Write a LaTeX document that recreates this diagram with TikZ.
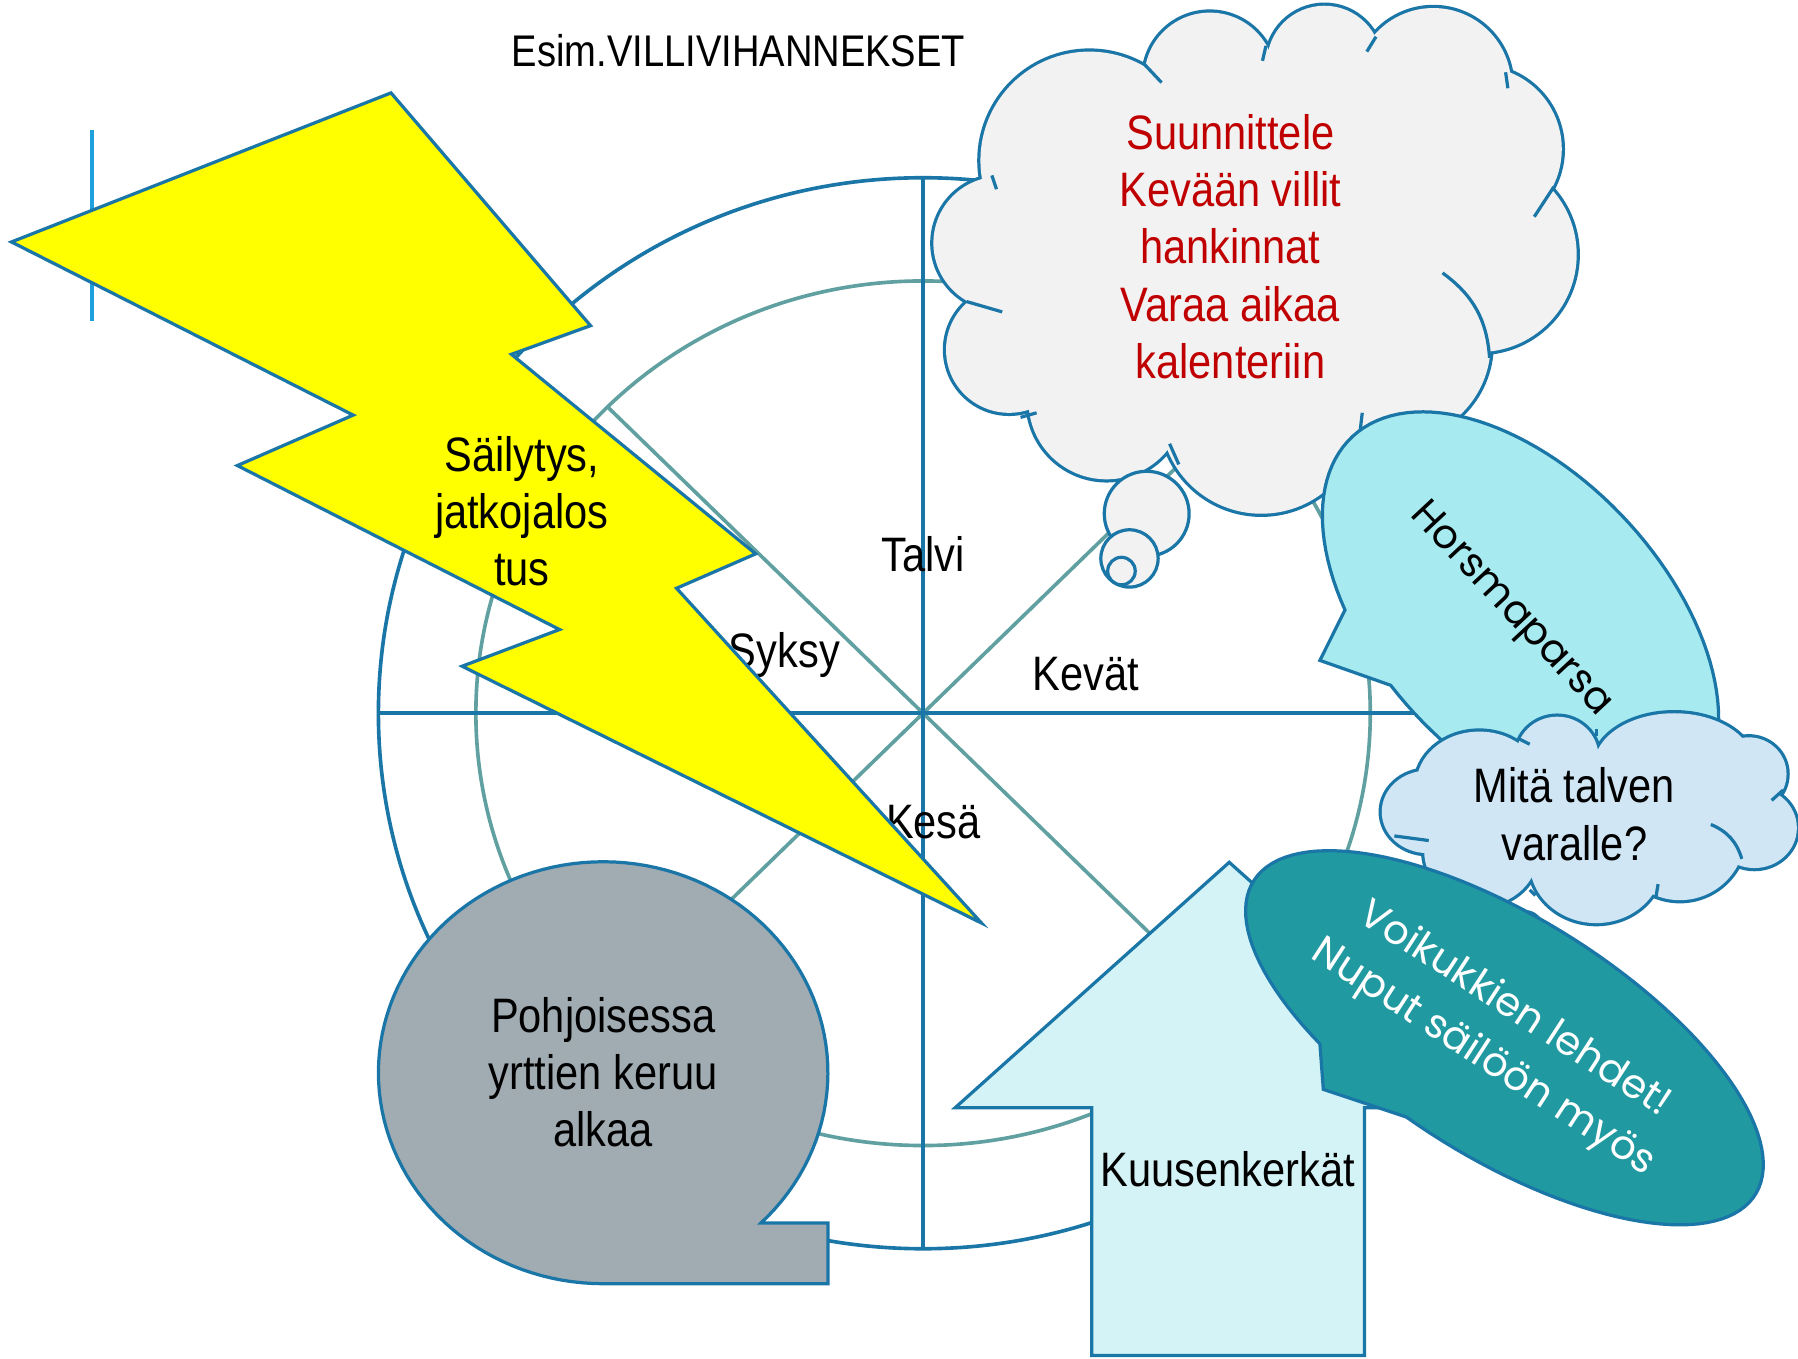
\documentclass[tikz,border=0pt]{standalone}
\usepackage{fontspec}
\setmainfont{Liberation Sans}[FakeStretch=0.86]
\newfontfamily\geofont{Poppins}
\definecolor{outline}{RGB}{27,118,168}
\definecolor{spoke}{RGB}{96,160,160}
\definecolor{bolt}{RGB}{255,255,0}
\definecolor{cloudgray}{RGB}{242,242,242}
\definecolor{planred}{RGB}{192,0,0}
\definecolor{horsma}{RGB}{167,235,240}
\definecolor{winter}{RGB}{208,230,245}
\definecolor{dandelion}{RGB}{32,154,160}
\definecolor{spruce}{RGB}{211,243,246}
\definecolor{northgray}{RGB}{160,171,178}
\definecolor{marker}{RGB}{30,160,220}

\begin{document}
\begin{tikzpicture}[x=0.1mm, y=-0.1mm, line width=0.8pt, align=center,
    font=\fontsize{12}{14.2}\selectfont,
    wheel/.style={draw=outline, line width=0.9pt},
    spokeline/.style={draw=spoke, line width=0.9pt},
    shapeline/.style={draw=outline, line width=0.8pt},
    puffline/.style={draw=outline, line width=1.6pt},
    geotext/.style={font=\geofont\fontsize{10}{14.2}\selectfont}]
    \path[fill=white] (0,0) rectangle (1568,1185);
    \useasboundingbox (0,0) rectangle (1568,1185);

    % Wheel
    \draw[wheel] (805,622) ellipse [x radius=475, y radius=467];
    \draw[spokeline] (805,622) ellipse [x radius=390, y radius=377];
    \draw[spokeline] (530,355) -- (1080,889);
    \draw[spokeline] (1080,355) -- (530,889);
    \draw[wheel] (805,155) -- (805,1089);
    \draw[wheel] (330,622) -- (1280,622);

    % Nodes
    \node[font=\fontsize{11}{13}\selectfont] (title) at (644,44) {Esim.VILLIVIHANNEKSET};
    \node (talvi) at (805,483) {Talvi};
    \node (syksy) at (684,571) {Syksy};
    \node (kevat) at (947,588) {Kevät};
    \node (kesa) at (814,717) {Kesä};

    \draw[marker, line width=1pt] (80,113) -- (80,280);

    % Lightning
    \draw[shapeline, fill=bolt] (341,81) -- (515,284) -- (446,309) -- (659,483) -- (590,513)
      -- (856,805) -- (403,581) -- (488,549) -- (207,406) -- (308,362) -- (10,211) -- cycle;
    \node (storage) at (455,446) {Säilytys,\\jatkojalos\\tus};

    % North bubble
    \draw[shapeline, fill=northgray] plot[domain=90:405.4, samples=120, variable=\t]
      ({526+196*cos(\t)},{935.5+184*sin(\t)}) -- (722,1066.5) -- (722,1119.5) -- cycle;
    \node (north) at (526,935) {Pohjoisessa\\yrttien keruu\\alkaa};

    % Plan cloud
    \foreach \cx/\cy/\rx/\ry in {872/212/58/58, 880/305/55/55, 965/350/68/68, 1100/360/88/88,
        1215/300/85/85, 1290/222/85/85, 1290/130/72/72, 1250/75/68/68, 1155/55/50/50,
        1055/68/57/57, 950/140/95/95}
      \draw[puffline] (\cx,\cy) ellipse [x radius=\rx, y radius=\ry];
    \foreach \cx/\cy/\rx/\ry in {872/212/58/58, 880/305/55/55, 965/350/68/68, 1100/360/88/88,
        1215/300/85/85, 1290/222/85/85, 1290/130/72/72, 1250/75/68/68, 1155/55/50/50,
        1055/68/57/57, 950/140/95/95}
      \fill[cloudgray] (\cx,\cy) ellipse [x radius=\rx, y radius=\ry];
    \fill[cloudgray] (872,212) -- (880,305) -- (965,350) -- (1100,360) -- (1215,300) -- (1290,222)
      -- (1290,130) -- (1250,75) -- (1155,55) -- (1055,68) -- (950,140) -- cycle;
    \foreach \ax/\ay/\bx/\by in {865/153/869/165, 997/55/1013/72, 1104/40/1101/53, 1200/32/1192/45,
        1313/63/1315/77, 1355/163/1338/189, 1188/360/1186/377, 1020/387/1028/405,
        904/360/890/364, 843/263/874/272}
      \draw[shapeline] (\ax,\ay) -- (\bx,\by);
    \draw[shapeline] (1258,238) to[bend left=25] (1299,312);
    \filldraw[shapeline, fill=cloudgray] (1000,448) circle (37);
    \filldraw[shapeline, fill=cloudgray] (985,487) circle (25);
    \filldraw[shapeline, fill=cloudgray] (978,498) circle (12);
    \node[text=planred] (plan) at (1073,215) {Suunnittele\\Kevään villit\\hankinnat\\Varaa aikaa\\kalenteriin};

    % Horsmaparsa callout
    \begin{scope}[shift={(1326,538)}, rotate=-47]
      \draw[shapeline, fill=horsma] plot[domain=120.4:459, samples=120, variable=\t]
        ({215*cos(\t)},{125*sin(\t)}) -- (-91.6,153.8) -- cycle;
    \end{scope}
    \node[geotext, rotate=-47] (horsmaparsa) at (1317,532) {Horsmaparsa};

    % Winter cloud
    \foreach \cx/\cy/\rx/\ry in {1290/685/55/47, 1358/660/36/35, 1460/668/70/46, 1525/675/33/32,
        1530/722/37/35, 1465/728/57/57, 1392/752/58/53, 1292/742/50/48, 1245/708/40/36}
      \draw[puffline] (\cx,\cy) ellipse [x radius=\rx, y radius=\ry];
    \foreach \cx/\cy/\rx/\ry in {1290/685/55/47, 1358/660/36/35, 1460/668/70/46, 1525/675/33/32,
        1530/722/37/35, 1465/728/57/57, 1392/752/58/53, 1292/742/50/48, 1245/708/40/36}
      \fill[winter] (\cx,\cy) ellipse [x radius=\rx, y radius=\ry];
    \fill[winter] (1290,685) -- (1358,660) -- (1460,668) -- (1525,675) -- (1530,722) -- (1465,728)
      -- (1392,752) -- (1292,742) -- (1245,708) -- cycle;
    \foreach \ax/\ay/\bx/\by in {1324/644/1334/649, 1392/636/1392/642, 1555/689/1545/698,
        1446/771/1444/783, 1339/781/1334/776, 1246/733/1216/729}
      \draw[shapeline] (\ax,\ay) -- (\bx,\by);
    \draw[shapeline] (1492,719) to[bend left=25] (1519,749);
    \filldraw[shapeline, fill=winter] (1330,810) circle (15);
    \node (winterq) at (1373,710) {Mitä talven\\varalle?};

    % Spruce arrow
    \draw[shapeline, fill=spruce] (1072,752) -- (1311,966) -- (1190,966) -- (1190,1182)
      -- (952,1182) -- (952,966) -- (833,966) -- cycle;
    \node (spruce) at (1071,1020) {Kuusenkerkät};

    % Dandelion callout
    \begin{scope}[shift={(1312,905)}, rotate=-32]
      \draw[shapeline, fill=dandelion] plot[domain=121.2:458, samples=120, variable=\t]
        ({258*cos(\t)},{105*sin(\t)}) -- (-110.1,121.9) -- cycle;
    \end{scope}
    \node[geotext, text=white, rotate=-33] (dandelion) at (1307,902) {Voikukkien lehdet!\\Nuput säilöön myös};
\end{tikzpicture}
\end{document}
